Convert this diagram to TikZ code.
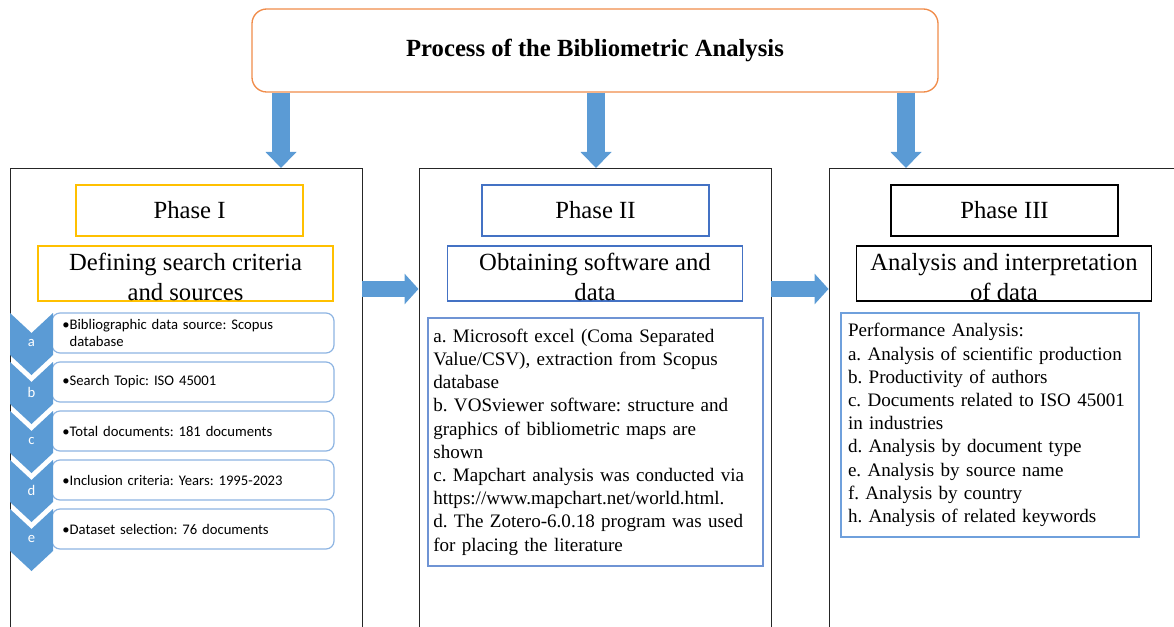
\documentclass[tikz,border=0pt]{standalone}
\usepackage{fontspec}
\setmainfont{Liberation Serif}
\newfontfamily\listfont{Carlito}
\usetikzlibrary{arrows.meta}
\frenchspacing
\definecolor{arrowblue}{HTML}{5B9BD5}
\definecolor{titleorange}{HTML}{F08C4A}
\definecolor{phaseyellow}{HTML}{FFC000}
\definecolor{phaseblue}{HTML}{4472C4}
\definecolor{contentblue}{HTML}{6F94D4}
\definecolor{resultblue}{HTML}{6FA0DC}
\definecolor{listblue}{HTML}{8DB4E2}
\begin{document}
\begin{tikzpicture}[x=0.75pt, y=-0.75pt,
    titlebox/.style={draw=titleorange, line width=1pt, rounded corners=11pt, minimum width=514.5pt, minimum height=62.25pt, font=\fontsize{18.5}{22}\selectfont\bfseries},
    frame/.style={draw=black!85, line width=0.75pt, minimum width=264pt, minimum height=362pt, anchor=north},
    phasebox/.style={line width=1pt, minimum width=170.25pt, minimum height=38.25pt, inner sep=0pt, font=\fontsize{18.5}{22}\selectfont},
    subbox/.style={line width=1pt, minimum width=221.25pt, minimum height=41.25pt, inner sep=0pt},
    subtext/.style={align=center, yshift=-2.5pt, font=\fontsize{18.5}{22.5}\selectfont},
    contentbox/.style={line width=1pt, align=left, inner ysep=0pt, font=\fontsize{14.3}{17.4}\selectfont},
    itembox/.style={draw=listblue, line width=0.9pt, rounded corners=6pt, minimum width=211.5pt, minimum height=30pt, text width=196pt, inner xsep=7.75pt, align=left, font=\listfont\fontsize{11}{12.5}\selectfont},
    downarrow/.style={arrowblue, line width=13.5pt, -{Triangle[width=22.5pt,length=12pt]}},
    sidearrow/.style={arrowblue, line width=12pt, -{Triangle[width=22.5pt,length=10.5pt]}}]
\useasboundingbox (0,0) rectangle (1174,627);

% title
\node[titlebox] (title) at (595,50.5) {Process of the Bibliometric Analysis};

% the three phases
\node[frame] (frameA) at (186,168) {};
\node[frame] (frameB) at (595,168) {};
\node[frame, minimum width=280pt] (frameC) at (1015.7,168) {};

\node[phasebox, draw=phaseyellow] (phaseA) at (189.5,210.5) {Phase I};
\node[phasebox, draw=phaseblue] (phaseB) at (595.5,210.5) {Phase II};
\node[phasebox, draw=black] (phaseC) at (1004.5,210.5) {Phase III};

\node[subbox, draw=phaseyellow, label={[subtext]center:Defining search criteria\\and sources}] (subA) at (185.5,273.5) {};
\node[subbox, draw=phaseblue, label={[subtext]center:Obtaining software and\\data}] (subB) at (595,273.5) {};
\node[subbox, draw=black, label={[subtext]center:Analysis and interpretation\\of data}] (subC) at (1004,273.5) {};

% arrows
\coordinate (downA) at (281,168);
\coordinate (downB) at (596,168);
\coordinate (downC) at (906,168);
\draw[downarrow] (title.south -| downA) -- (downA);
\draw[downarrow] (title.south -| downB) -- (downB);
\draw[downarrow] (title.south -| downC) -- (downC);

\coordinate (sideA) at (362,289);
\coordinate (sideB) at (771,289);
\draw[sidearrow] (sideA) -- (sideA -| frameB.west);
\draw[sidearrow] (sideB) -- (sideB -| frameC.west);

% phase I list
\node[itembox] (itemA) at (193,333) {\textbullet Bibliographic data source: Scopus\\\hphantom{\textbullet}database};
\node[itembox] (itemB) at (193,382) {\textbullet Search Topic: ISO 45001};
\node[itembox] (itemC) at (193,431) {\textbullet Total documents: 181 documents};
\node[itembox] (itemD) at (193,480) {\textbullet Inclusion criteria: Years: 1995-2023};
\node[itembox] (itemE) at (193,529) {\textbullet Dataset selection: 76 documents};

\foreach \lab [count=\n from 0] in {a,b,c,d,e} {
    \pgfmathsetmacro{\yt}{313+49*\n}
    \fill[arrowblue] (10,\yt) -- (31.5,\yt+20) -- (53,\yt) -- (53,\yt+42) -- (31.5,\yt+62) -- (10,\yt+42) -- cycle;
    \node[text=white, font=\listfont\fontsize{11}{12}\selectfont] (chev\lab) at (31.5,\yt+30) {\lab};
}

% phase II and III contents
\node[contentbox, draw=contentblue, text width=243.25pt, inner xsep=4pt, minimum height=186pt] (listB) at (595.5,442) {%
a. Microsoft excel (Coma Separated\\
Value/CSV), extraction from Scopus\\
database\\
b. VOSviewer software: structure and\\
graphics of bibliometric maps are\\
shown\\
c. Mapchart analysis was conducted via\\
https://www.mapchart.net/world.html.\\
d. The Zotero-6.0.18 program was used\\
for placing the literature};

\node[contentbox, draw=resultblue, text width=213pt, inner xsep=5.25pt, minimum height=168pt] (listC) at (990,425) {%
Performance Analysis:\\
a. Analysis of scientific production\\
b. Productivity of authors\\
c. Documents related to ISO 45001\\
in industries\\
d. Analysis by document type\\
e. Analysis by source name\\
f. Analysis by country\\
h. Analysis of related keywords};
\end{tikzpicture}
\end{document}
